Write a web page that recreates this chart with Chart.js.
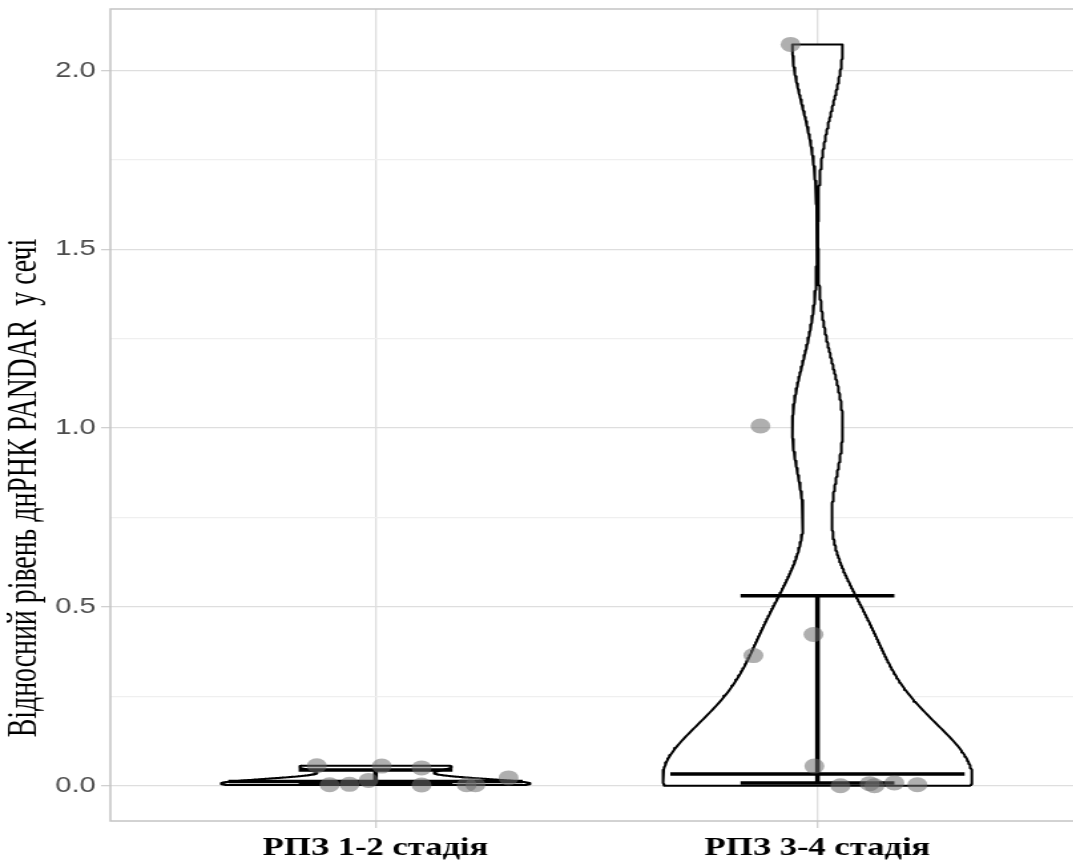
<!DOCTYPE html>
<html><head><meta charset="utf-8">
<script src="https://cdn.jsdelivr.net/npm/chart.js@4.4.1/dist/chart.umd.min.js"></script>
<style>
html,body{margin:0;padding:0;background:#fff;overflow:hidden;width:1073px;height:863px;}
#wrap{position:absolute;left:0;top:0;width:830px;height:863px;transform:scaleX(1.33);transform-origin:0 0;}
canvas{display:block;}
</style></head><body>
<div id="wrap"><canvas id="c" width="830" height="863"></canvas></div>
<script>
// ---- data ----
const categories = ['РПЗ 1-2 стадія', 'РПЗ 3-4 стадія'];
const yTitle = 'Відносний рівень днРНК PANDAR  у сечі';
const yMajorTicks = [0, 0.5, 1.0, 1.5, 2.0];
const yMinorTicks = [0.25, 0.75, 1.25, 1.75];

// jittered points (horizontal jitter position, value)
const group1X = [0.867, 0.896, 0.941, 0.984, 1.014, 1.104, 1.104, 1.206, 1.226, 1.301];
const group1Y = [0.056, 0.003, 0.004, 0.015, 0.055, 0.050, 0.002, 0.003, 0.003, 0.022];
const group2X = [1.939, 1.871, 1.991, 1.855, 1.993, 2.052, 2.118, 2.129, 2.174, 2.226];
const group2Y = [2.073, 1.006, 0.423, 0.364, 0.055, 0.000, 0.006, 0.000, 0.008, 0.003];

// summary lines
const medians   = [0.012, 0.033];
const lowerBars = [0.004, 0.008];
const upperBars = [0.044, 0.531];

// ---- helpers ----
const VIOLIN_HALF = 0.35, BAR_HALF = 0.174, MEDIAN_HALF = 0.333;

function bwNrd0(v) {
  const n = v.length;
  const m = v.reduce((a, b) => a + b, 0) / n;
  const sd = Math.sqrt(v.reduce((a, b) => a + (b - m) * (b - m), 0) / (n - 1));
  const s = [...v].sort((a, b) => a - b);
  const q = p => { const h = (n - 1) * p, lo = Math.floor(h); return s[lo] + (h - lo) * (s[Math.min(lo + 1, n - 1)] - s[lo]); };
  let lo = Math.min(sd, (q(0.75) - q(0.25)) / 1.34);
  if (!(lo > 0)) lo = sd || 1;
  return 0.9 * lo * Math.pow(n, -0.2);
}
function violinPath(center, vals) {
  const bw = bwNrd0(vals);
  const lo = Math.min(...vals), hi = Math.max(...vals);
  const N = 512, ys = [], ds = [];
  for (let i = 0; i < N; i++) {
    const y = lo + (hi - lo) * i / (N - 1);
    let d = 0;
    for (const v of vals) { const z = (y - v) / bw; d += Math.exp(-0.5 * z * z); }
    ys.push(y); ds.push(d);
  }
  const mx = Math.max(...ds);
  const right = ys.map((y, i) => ({x: center + VIOLIN_HALF * ds[i] / mx, y}));
  const left = ys.map((y, i) => ({x: center - VIOLIN_HALF * ds[i] / mx, y})).reverse();
  return [...right, ...left, right[0]];
}
function errorbarPts(c, lo, hi) {
  return [
    {x: c - BAR_HALF, y: hi}, {x: c + BAR_HALF, y: hi}, {x: c, y: null},
    {x: c, y: hi}, {x: c, y: lo}, {x: c, y: null},
    {x: c - BAR_HALF, y: lo}, {x: c + BAR_HALF, y: lo}
  ];
}
function medianPts(c, m) { return [{x: c - MEDIAN_HALF, y: m}, {x: c + MEDIAN_HALF, y: m}]; }

const PT_COLOR = 'rgba(110,110,110,0.55)';
const groupsY = [group1Y, group2Y];
const groupsX = [group1X, group2X];

const datasets = [];
groupsY.forEach((vals, i) => {
  datasets.push({
    data: violinPath(i + 1, vals), showLine: true, fill: 'shape',
    backgroundColor: '#ffffff', borderColor: '#000000', borderWidth: 2,
    borderJoinStyle: 'round', pointRadius: 0, tension: 0, order: 3
  });
});
groupsY.forEach((vals, i) => {
  datasets.push({
    data: errorbarPts(i + 1, lowerBars[i], upperBars[i]), showLine: true, spanGaps: false,
    borderColor: '#000000', borderWidth: 3.5, pointRadius: 0, fill: false, order: 2
  });
  datasets.push({
    data: medianPts(i + 1, medians[i]), showLine: true,
    borderColor: '#000000', borderWidth: 3.5, pointRadius: 0, fill: false, order: 2
  });
});
groupsY.forEach((vals, i) => {
  datasets.push({
    data: vals.map((v, k) => ({x: groupsX[i][k], y: v})),
    showLine: false, pointRadius: 7.5, pointBorderWidth: 0,
    pointBackgroundColor: PT_COLOR, pointBorderColor: 'rgba(0,0,0,0)', order: 1
  });
});

const panelBorder = {
  id: 'panelBorder',
  beforeDatasetsDraw(chart) {
    const {ctx, chartArea: a} = chart;
    ctx.save();
    ctx.strokeStyle = '#c4c4c4';
    ctx.lineWidth = 1.5;
    ctx.strokeRect(a.left, a.top, a.right - a.left, a.bottom - a.top);
    ctx.restore();
  }
};
const yTitlePlugin = {
  id: 'yTitleText',
  afterDraw(chart) {
    const ctx = chart.ctx;
    ctx.save();
    ctx.font = "32px 'Liberation Serif', 'Times New Roman', serif";
    ctx.fillStyle = '#000000';
    ctx.translate(19, 488);
    ctx.rotate(-Math.PI / 2);
    ctx.scale(0.87, 1);
    ctx.textAlign = 'center';
    ctx.textBaseline = 'middle';
    ctx.fillText(yTitle, 0, 0);
    ctx.restore();
  }
};

new Chart(document.getElementById('c'), {
  type: 'scatter',
  data: {datasets},
  plugins: [panelBorder, yTitlePlugin],
  options: {
    responsive: false, animation: false, events: [],
    devicePixelRatio: 1,
    layout: {padding: {top: 9, right: 16, left: 0, bottom: 0}},
    plugins: {legend: {display: false}, tooltip: {enabled: false}},
    scales: {
      x: {
        type: 'linear', min: 0.4, max: 2.6,
        afterBuildTicks: s => { s.ticks = categories.map((_, i) => ({value: i + 1})); },
        afterFit: s => { s.height = 42; s.paddingLeft = 0; s.paddingRight = 0; },
        border: {display: false},
        grid: {color: '#dedede', lineWidth: 1.3, tickLength: 7, tickColor: '#d0d0d0'},
        ticks: {
          autoSkip: false, maxRotation: 0, padding: 5, color: '#000000',
          font: {family: "'Liberation Serif','Times New Roman',serif", size: 26, weight: 'bold'},
          callback: (v, idx) => categories[idx]
        }
      },
      y: {
        type: 'linear', min: -0.0985, max: 2.172,
        afterBuildTicks: s => { s.ticks = [...yMajorTicks, ...yMinorTicks].sort((a, b) => a - b).map(v => ({value: v})); },
        afterFit: s => { s.width = 83; s.paddingTop = 0; s.paddingBottom = 0; },
        border: {display: false},
        grid: {
          color: c => (c.tick && yMajorTicks.includes(c.tick.value)) ? '#dedede' : '#efefef',
          lineWidth: 1.3, tickLength: 7,
          tickColor: c => (c.tick && yMajorTicks.includes(c.tick.value)) ? '#d0d0d0' : 'rgba(0,0,0,0)'
        },
        ticks: {
          autoSkip: false, padding: 4, color: '#4d4d4d',
          font: {family: "'Liberation Sans',Arial,sans-serif", size: 22},
          callback: v => yMajorTicks.includes(v) ? v.toFixed(1) : ''
        },
        title: {display: false}
      }
    }
  }
});
</script>
</body></html>
